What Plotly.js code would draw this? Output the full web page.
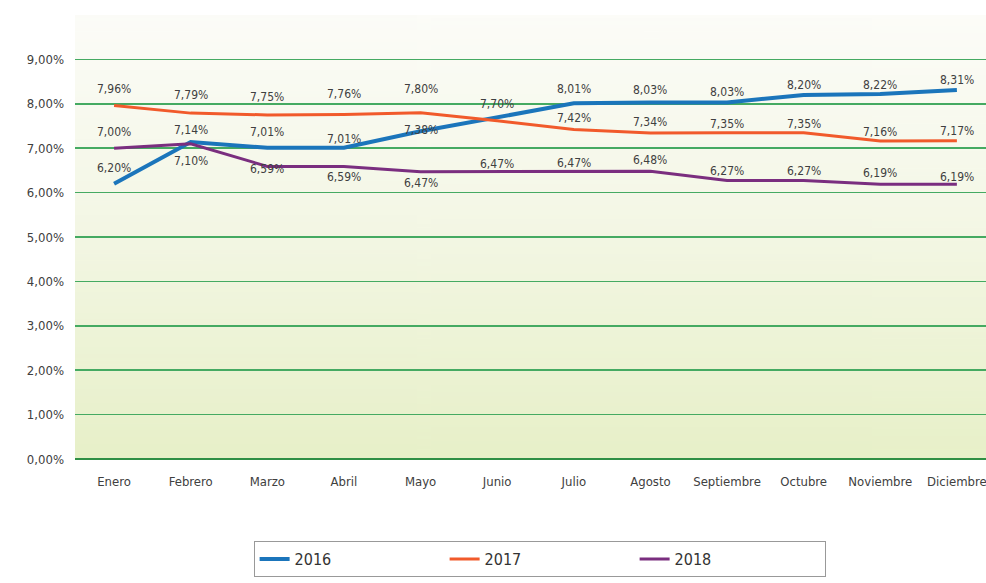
<!DOCTYPE html>
<html>
<head>
<meta charset="utf-8">
<script src="https://cdn.plot.ly/plotly-3.0.1.min.js"></script>
<style>
html,body{margin:0;padding:0;background:#fff;}
#chart{width:986px;height:583px;}
</style>
</head>
<body>
<div id="chart"></div>
<script>
const months = ["Enero","Febrero","Marzo","Abril","Mayo","Junio","Julio","Agosto","Septiembre","Octubre","Noviembre","Diciembre"];
const s2016 = [6.20, 7.14, 7.01, 7.01, 7.38, 7.70, 8.01, 8.03, 8.03, 8.20, 8.22, 8.31];
const s2017 = [7.96, 7.79, 7.75, 7.76, 7.80, 7.62, 7.42, 7.34, 7.35, 7.35, 7.16, 7.17];
const s2018 = [7.00, 7.10, 6.59, 6.59, 6.47, 6.47, 6.47, 6.48, 6.27, 6.27, 6.19, 6.19];
const labeled2017 = [true, true, true, true, true, false, true, true, true, true, true, true];
const yTicks = [0,1,2,3,4,5,6,7,8,9,10];

const fmt = v => v.toFixed(2).replace('.', ',') + '%';

// label vertical shift in pixels (style only; positive = up)
const shift2016 = [16, 12, 16, 9, 1, 13, 14, 12, 10, 10, 9, 10];
const shift2017 = [17, 18, 18, 20, 24, 0, 12, 11, 9, 9, 9, 10];
const shift2018 = [16, -17, -3, -11, -11, 8, 9, 11, 10, 10, 11, 7];

function gradientURL(){
  const c = document.createElement('canvas');
  c.width = 4; c.height = 256;
  const g = c.getContext('2d');
  const gr = g.createLinearGradient(0,0,0,256);
  gr.addColorStop(0, '#fcfcf8');
  gr.addColorStop(0.45, '#f4f7e6');
  gr.addColorStop(1, '#e7f0c8');
  g.fillStyle = gr; g.fillRect(0,0,4,256);
  return c.toDataURL('image/png');
}

const FONT = '"Liberation Sans Narrow", "DejaVu Sans Condensed", "Open Sans", sans-serif';
const textFont = {family: FONT, size: 12, color: '#404040'};

function line(name, ys, color, width){
  return {x: months, y: ys, name: name, type: 'scatter', mode: 'lines',
    line: {color: color, width: width}, hoverinfo: 'skip'};
}

function labels(ys, shifts, show){
  const out = [];
  ys.forEach((v, i) => {
    if (show && !show[i]) return;
    out.push({x: months[i], y: v, xref: 'x', yref: 'y', text: fmt(v),
      showarrow: false, yshift: shifts[i], yanchor: 'middle', xanchor: 'center',
      font: textFont});
  });
  return out;
}

const traces = [
  line('2016', s2016, '#1b75bb', 4),
  line('2017', s2017, '#f15a2b', 3),
  line('2018', s2018, '#7a2e7f', 3)
];

const layout = {
  width: 986, height: 583,
  margin: {l: 75, r: 0, t: 15, b: 124, pad: 0, autoexpand: false},
  paper_bgcolor: '#ffffff',
  plot_bgcolor: 'rgba(0,0,0,0)',
  font: {family: FONT, size: 13, color: '#404040'},
  showlegend: true,
  legend: {
    orientation: 'h', x: 0.51, xanchor: 'center', y: -0.185, yanchor: 'top',
    bordercolor: '#999999', borderwidth: 1, bgcolor: '#ffffff',
    font: {family: FONT, size: 16, color: '#333333'},
    entrywidth: 145, entrywidthmode: 'pixels'
  },
  xaxis: {
    type: 'category', range: [-0.51, 11.38],
    showgrid: false, zeroline: false, showline: false,
    ticks: '', ticklabelstandoff: 13,
    tickfont: {family: FONT, size: 13, color: '#404040'},
    fixedrange: true
  },
  yaxis: {
    range: [0, 10], tickvals: yTicks,
    ticktext: yTicks.map(v => v < 10 ? fmt(v) : ''),
    showgrid: true, gridcolor: '#45aa62', gridwidth: 1.5,
    zeroline: true, zerolinecolor: '#2f8f45', zerolinewidth: 2,
    showline: false, ticks: '', ticklabelstandoff: 10,
    tickfont: {family: FONT, size: 13, color: '#404040'},
    fixedrange: true
  },
  annotations: [].concat(
    labels(s2016, shift2016),
    labels(s2017, shift2017, labeled2017),
    labels(s2018, shift2018)
  ),
  images: [{
    source: gradientURL(), xref: 'paper', yref: 'paper',
    x: 0, y: 1, sizex: 1, sizey: 1, sizing: 'stretch', layer: 'below'
  }]
};

Plotly.newPlot('chart', traces, layout, {displayModeBar: false, staticPlot: true});
</script>
</body>
</html>
